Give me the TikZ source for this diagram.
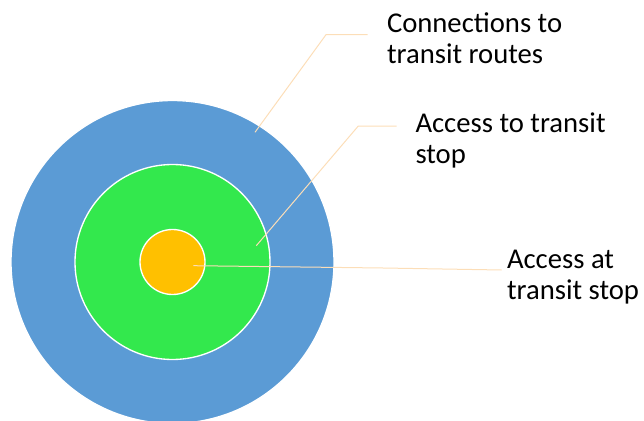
\documentclass[tikz,border=0pt]{standalone}
\usepackage{fontspec}
\setmainfont{Carlito}
\definecolor{ringblue}{RGB}{91,155,213}
\definecolor{ringgreen}{RGB}{51,232,77}
\definecolor{ringgold}{RGB}{255,192,0}
\definecolor{leaderpeach}{RGB}{252,222,184}
\tikzset{every picture/.style={line width=0.75pt}}
\tikzset{
  ring/.style={circle, draw=white, line width=1pt, inner sep=0pt},
  leader/.style={draw=leaderpeach, line width=0.75pt},
  caption/.style={anchor=north west, inner sep=0pt, align=left,
    font=\fontsize{21.5}{23.3}\selectfont}
}

\begin{document}
\begin{tikzpicture}[x=0.75pt,y=0.75pt,yscale=-1,xscale=1]
\useasboundingbox (0,0) rectangle (644,421);

%Shape: Circle [id:outer]
\node (outer) [ring, fill=ringblue, minimum size=242.25pt] at (172.5,262) {};
%Shape: Circle [id:middle]
\node (middle) [ring, fill=ringgreen, minimum size=146.25pt] at (172.5,262) {};
%Shape: Circle [id:inner]
\node (inner) [ring, fill=ringgold, minimum size=48.75pt] at (172.5,262) {};

% Text Node
\node (routes) [caption] at (386.5,12.5) {Connections to\\transit routes};
% Text Node
\node (tostop) [caption] at (415,112.5) {Access to transit\\stop};
% Text Node
\node (atstop) [caption] at (506.5,250) {Access at\\transit stop};

%Callout points
\coordinate (p1) at (255,132.3);
\coordinate (k1) at (326,34.7);
\coordinate (q1) at (367.7,34.7);
\coordinate (p2) at (256.3,245.7);
\coordinate (k2) at (358.3,126);
\coordinate (q2) at (396.7,126);
\coordinate (p3) at (193.3,265.7);
\coordinate (k3) at (383,268);
\coordinate (q3) at (501.7,270);

%Straight Lines [id:leaders]
\draw [leader] (p1) -- (k1) -- (q1);
\draw [leader] (p2) -- (k2) -- (q2);
\draw [leader] (p3) -- (k3) -- (q3);

\end{tikzpicture}
\end{document}
